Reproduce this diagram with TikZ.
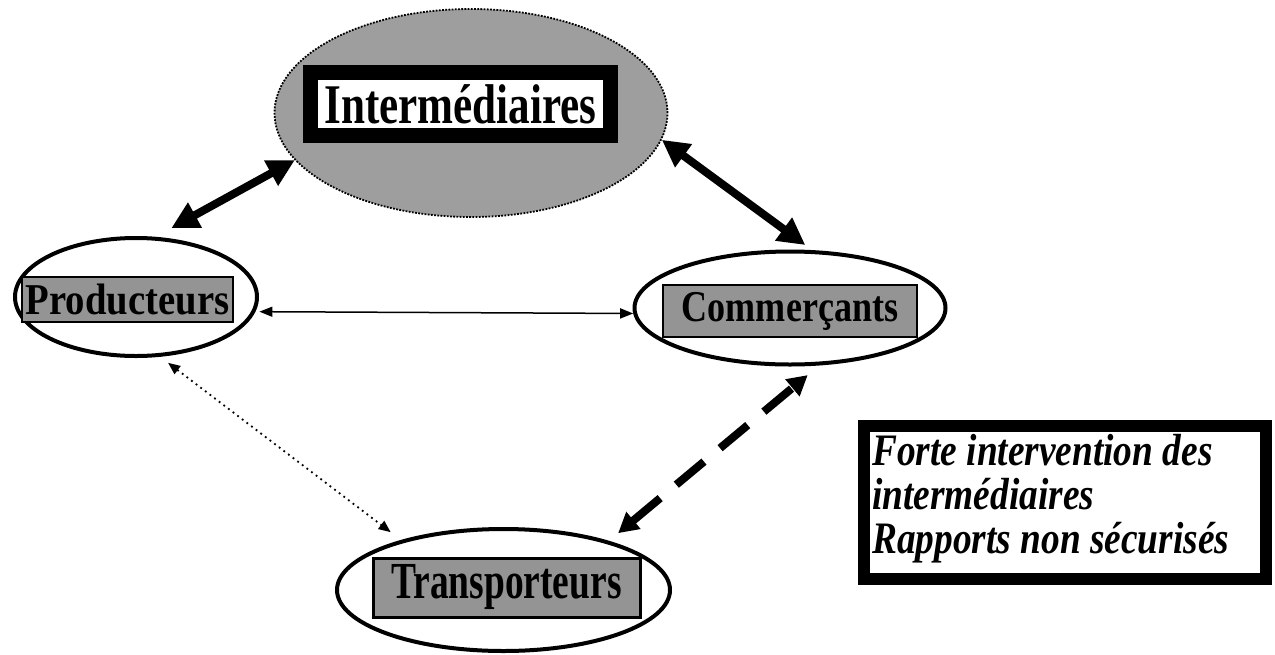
\documentclass[tikz,border=0pt]{standalone}
\usepackage{fontspec}
\usepackage{graphicx}
\setmainfont{Liberation Serif}
\usetikzlibrary{shapes.geometric,arrows.meta}
\begin{document}
\begin{tikzpicture}[x=1pt,y=-1pt,
  bigell/.style={ellipse, draw=black, line width=1.8pt, dash pattern=on 1.8pt off 1.4pt, fill=black!38, inner sep=0pt},
  actor/.style={ellipse, draw=black, line width=4pt, fill=white, inner sep=0pt},
  graybox/.style={rectangle, draw=black, line width=2.5pt, fill=black!42, inner sep=0pt},
  framebox/.style={rectangle, draw=black, fill=white, inner sep=0pt},
  thickarrow/.style={line width=8pt, {Triangle[length=27pt,width=27pt]}-{Triangle[length=27pt,width=27pt]}},
  thinarrow/.style={line width=1.5pt, {Triangle[length=13pt,width=10pt]}-{Triangle[length=13pt,width=10pt]}},
  dotarrow/.style={line width=1.8pt, dash pattern=on 1.8pt off 4pt, {Triangle[length=12pt,width=10pt]}-{Triangle[length=12pt,width=10pt]}},
  dasharrow/.style={line width=8pt, dash pattern=on 36pt off 21pt, {Triangle[length=20pt,width=21pt]}-{Triangle[length=20pt,width=21pt]}}
]
\useasboundingbox (0,0) rectangle (1275,654);
\fill[white] (0,0) rectangle (1275,654);

% Intermediaires
\node[bigell, minimum width=393pt, minimum height=208pt] (inter) at (471,113) {};
\node[framebox, line width=15pt, minimum width=300pt, minimum height=63pt,
      font={\fontsize{56}{60}\selectfont\bfseries}] (interlbl) at (460.5,104)
      {\scalebox{0.77}[1]{Intermédiaires}};

% Producteurs
\node[actor, minimum width=242pt, minimum height=118pt] (prod) at (136,297) {};
\node[graybox, minimum width=211pt, minimum height=45pt,
      font={\fontsize{44}{48}\selectfont\bfseries}] (prodlbl) at (127.5,299.5)
      {\scalebox{0.88}[1]{Producteurs}};

% Commercants
\node[actor, minimum width=311pt, minimum height=113pt] (comm) at (790,308) {};
\node[graybox, minimum width=254pt, minimum height=52pt,
      font={\fontsize{44}{48}\selectfont\bfseries}] (commlbl) at (790,311)
      {\scalebox{0.82}[1]{Commerçants}};

% Transporteurs
\node[actor, minimum width=333pt, minimum height=122pt] (trans) at (503.5,590) {};
\node[graybox, line width=3pt, minimum width=267pt, minimum height=59pt,
      font={\fontsize{52}{56}\selectfont\bfseries}] (translbl) at (506.5,587.5)
      {\scalebox{0.72}[1]{Transporteurs}};

% Text box
\node[framebox, line width=12pt, minimum width=402pt, minimum height=153pt] (tbox) at (1065,502.5) {};
\node[anchor=west, inner sep=0pt, font={\fontsize{45}{42}\selectfont\bfseries\itshape}] (tboxtxt) at (872,500)
  {\scalebox{0.83}[1]{\begin{tabular}{@{}l@{}}Forte intervention des\\intermédiaires\\Rapports non sécurisés\end{tabular}}};

% Connectors
\draw[thickarrow, shorten <=18pt] (prod.72) -- (inter.195);
\draw[thickarrow, shorten >=8.6pt] (inter.-8) -- (comm.69);
\draw[thinarrow, shorten <=4pt] (prod.-7) -- (comm.182);
\draw[dotarrow, shorten <=10pt, shorten >=13pt] (prod.-68) -- (trans.154);
\draw[dasharrow, shorten <=12pt, shorten >=15pt] (trans.25) -- (comm.-63);
\end{tikzpicture}
\end{document}
